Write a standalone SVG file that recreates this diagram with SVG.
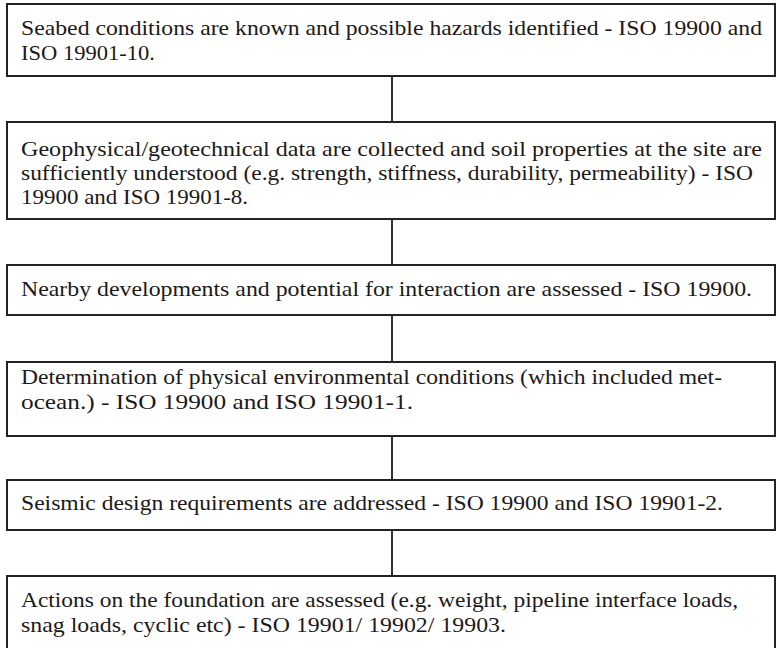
<svg xmlns="http://www.w3.org/2000/svg" width="777" height="648" viewBox="0 0 777 648">
  <style>
    .box { fill: #ffffff; stroke: #222222; stroke-width: 2; }
    .link { stroke: #333333; stroke-width: 2; fill: none; }
  </style>
  <rect width="777" height="648" fill="#ffffff"/>

  <!-- vertical links between consecutive steps -->
  <g id="connectors">
    <line class="link" x1="392" y1="76" x2="392" y2="122"/>
    <line class="link" x1="392" y1="219" x2="392" y2="265"/>
    <line class="link" x1="392" y1="315" x2="392" y2="362"/>
    <line class="link" x1="392" y1="436" x2="392" y2="480"/>
    <line class="link" x1="392" y1="530" x2="392" y2="576"/>
  </g>

  <g font-family="Liberation Serif, Times New Roman, serif" font-size="21" fill="#1a1a1a" lengthAdjust="spacingAndGlyphs">
    <g id="step-seabed">
      <rect class="box" x="7" y="4" width="768" height="72"/>
      <text x="21" y="35" textLength="741" lengthAdjust="spacingAndGlyphs">Seabed conditions are known and possible hazards identified - ISO 19900 and</text>
      <text x="21" y="60" textLength="134" lengthAdjust="spacingAndGlyphs">ISO 19901-10.</text>
    </g>

    <g id="step-soil">
      <rect class="box" x="7" y="122" width="768" height="97"/>
      <text x="21" y="156" textLength="741" lengthAdjust="spacingAndGlyphs">Geophysical/geotechnical data are collected and soil properties at the site are</text>
      <text x="21" y="180" textLength="732" lengthAdjust="spacingAndGlyphs">sufficiently understood (e.g. strength, stiffness, durability, permeability) - ISO</text>
      <text x="21" y="204" textLength="227" lengthAdjust="spacingAndGlyphs">19900 and ISO 19901-8.</text>
    </g>

    <g id="step-nearby">
      <rect class="box" x="7" y="265" width="768" height="50"/>
      <text x="21" y="296" textLength="731" lengthAdjust="spacingAndGlyphs">Nearby developments and potential for interaction are assessed - ISO 19900.</text>
    </g>

    <g id="step-environment">
      <rect class="box" x="7" y="362" width="768" height="74"/>
      <text x="21" y="384" textLength="701" lengthAdjust="spacingAndGlyphs">Determination of physical environmental conditions (which included met-</text>
      <text x="21" y="409" textLength="392" lengthAdjust="spacingAndGlyphs">ocean.) - ISO 19900 and ISO 19901-1.</text>
    </g>

    <g id="step-seismic">
      <rect class="box" x="7" y="480" width="768" height="50"/>
      <text x="21" y="510" textLength="702" lengthAdjust="spacingAndGlyphs">Seismic design requirements are addressed - ISO 19900 and ISO 19901-2.</text>
    </g>

    <g id="step-actions">
      <rect class="box" x="7" y="576" width="768" height="90"/>
      <text x="21" y="607" textLength="717" lengthAdjust="spacingAndGlyphs">Actions on the foundation are assessed (e.g. weight, pipeline interface loads,</text>
      <text x="21" y="632" textLength="485" lengthAdjust="spacingAndGlyphs">snag loads, cyclic etc) - ISO 19901/ 19902/ 19903.</text>
    </g>
  </g>
</svg>
